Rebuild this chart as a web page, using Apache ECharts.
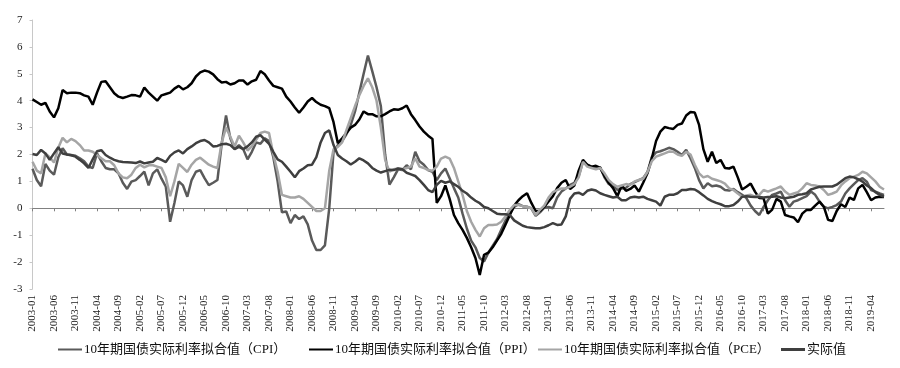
<!DOCTYPE html>
<html>
<head>
<meta charset="utf-8">
<script src="https://cdn.jsdelivr.net/npm/echarts@6/dist/echarts.min.js"></script>
<style>
html,body{margin:0;padding:0;background:#fff;}
#chart{width:900px;height:368px;}
</style>
</head>
<body>
<div id="chart"></div>
<script>
// Monthly categories 2003-01 .. 2019-07
const startYear = 2003, endYear = 2019, endMonth = 7;
const categories = [];
for (let y = startYear; y <= endYear; y++) {
  for (let m = 1; m <= 12; m++) {
    if (y === endYear && m > endMonth) break;
    categories.push(y + '-' + (m < 10 ? '0' + m : '' + m));
  }
}

const seriesNames = [
  '10年期国债实际利率拟合值（CPI）',
  '10年期国债实际利率拟合值（PPI）',
  '10年期国债实际利率拟合值（PCE）',
  '实际值'
];

const cpiFit = [
  1.47, 1.05, 0.82, 1.65, 1.4, 1.25, 1.9, 2.23, 2.0, 1.98, 1.95, 1.86,
  1.75, 1.55, 1.5, 2.04, 1.75, 1.5, 1.45, 1.45, 1.3, 0.95, 0.72, 0.99,
  1.05, 1.2, 1.36, 0.85, 1.3, 1.45, 1.1, 0.8, -0.5, 0.2, 1.0, 0.85,
  0.43, 1.05, 1.36, 1.42, 1.12, 0.86, 0.95, 1.05, 2.4, 3.45, 2.6, 2.2,
  2.35, 2.2, 1.82, 2.1, 2.45, 2.4, 2.6, 2.5, 1.9, 1.0, -0.15, -0.12,
  -0.55, -0.25, -0.4, -0.3, -0.6, -1.2, -1.55, -1.55, -1.38, 0.0, 2.1, 2.35,
  2.5, 2.75, 3.1, 3.6, 4.3, 5.0, 5.68, 5.1, 4.5, 3.8, 2.0, 0.88,
  1.15, 1.45, 1.42, 1.6, 1.45, 2.1, 1.75, 1.62, 1.42, 1.36, 1.05, 1.3,
  1.48, 1.12, 0.75, 0.4, -0.2, -0.75, -1.2, -1.45, -1.85, -1.98, -1.65, -1.4,
  -1.15, -0.8, -0.45, -0.2, 0.05, 0.15, 0.08, 0.06, 0.0, -0.28, -0.15, 0.02,
  0.05, 0.0, 0.4, 0.62, 0.74, 0.87, 0.95, 1.2, 1.73, 1.62, 1.52, 1.5,
  1.53, 1.15, 0.9, 0.85, 0.68, 0.74, 0.76, 0.9, 0.97, 1.05, 1.12, 1.35,
  1.9, 2.08, 2.12, 2.18, 2.25, 2.2, 2.1, 1.98, 2.17, 1.86, 1.5, 1.05,
  0.74, 0.93, 0.82, 0.85, 0.8, 0.68, 0.66, 0.72, 0.6, 0.5, 0.38, 0.1,
  -0.1, -0.25, 0.05, 0.3, 0.5, 0.55, 0.62, 0.3, 0.06, 0.25, 0.3, 0.38,
  0.45, 0.62, 0.5, 0.25, 0.06, 0.0, 0.05, 0.12, 0.25, 0.55, 0.74, 0.9,
  1.05, 1.12, 0.99, 0.68, 0.62, 0.55, 0.5
];

const ppiFit = [
  4.05, 3.95, 3.85, 3.92, 3.6, 3.38, 3.72, 4.4, 4.28, 4.3, 4.3, 4.28,
  4.2, 4.15, 3.85, 4.3, 4.7, 4.72, 4.5, 4.28, 4.15, 4.1, 4.15, 4.21,
  4.2, 4.15, 4.49, 4.3, 4.15, 4.0, 4.2, 4.25, 4.3, 4.45, 4.55, 4.42,
  4.5, 4.65, 4.9, 5.05, 5.12, 5.08, 4.98, 4.8, 4.68, 4.7, 4.6, 4.65,
  4.75, 4.75, 4.6, 4.72, 4.78, 5.1, 4.98, 4.75, 4.55, 4.5, 4.45, 4.15,
  3.97, 3.75, 3.55, 3.75, 3.97, 4.1, 3.95, 3.85, 3.8, 3.72, 3.2, 2.42,
  2.6, 2.8, 3.0, 3.1, 3.3, 3.6, 3.5, 3.5, 3.42, 3.42, 3.5, 3.6,
  3.68, 3.66, 3.72, 3.82, 3.5, 3.28, 3.04, 2.85, 2.7, 2.58, 0.2, 0.45,
  0.85, 0.35, -0.25, -0.55, -0.8, -1.1, -1.45, -1.85, -2.48, -1.73, -1.65, -1.45,
  -1.2, -0.95, -0.6, -0.25, 0.1, 0.3, 0.45, 0.56, 0.2, -0.1, -0.1, 0.05,
  0.25, 0.45, 0.75, 0.95, 1.05, 0.72, 0.85, 1.4, 1.8, 1.62, 1.55, 1.58,
  1.5, 1.2, 0.95, 0.75, 0.45, 0.85, 0.65, 0.72, 0.85, 0.62, 0.95, 1.3,
  1.85, 2.5, 2.85, 3.02, 2.98, 2.95, 3.1, 3.15, 3.45, 3.58, 3.56, 3.1,
  2.2, 1.73, 2.1, 1.68, 1.8, 1.5, 1.48, 1.55, 1.15, 0.7, 0.8, 0.92,
  0.62, 0.38, 0.37, -0.2, -0.05, 0.35, 0.25, -0.25, -0.3, -0.34, -0.52, -0.2,
  -0.06, -0.06, 0.1, 0.25, 0.06, -0.43, -0.47, -0.1, 0.15, 0.05, 0.4, 0.31,
  0.74, 0.87, 0.6, 0.3, 0.4, 0.43, 0.42
];

const pceFit = [
  1.73, 1.4, 1.3, 2.04, 1.9, 1.7, 2.25, 2.62, 2.45, 2.58, 2.5, 2.35,
  2.15, 2.15, 2.1, 1.98, 1.86, 1.75, 1.75, 1.6, 1.3, 1.15, 1.12, 1.25,
  1.5, 1.62, 1.52, 1.6, 1.6, 1.55, 1.5, 1.15, 0.45, 1.0, 1.65, 1.5,
  1.35, 1.62, 1.8, 1.88, 1.75, 1.62, 1.55, 1.5, 2.45, 3.0, 2.66, 2.3,
  2.7, 2.45, 2.15, 2.3, 2.55, 2.8, 2.85, 2.8, 2.0, 1.36, 0.5, 0.45,
  0.4, 0.4, 0.45, 0.35, 0.2, 0.05, -0.1, -0.1, 0.0, 1.4, 2.2, 2.28,
  2.45, 2.9, 3.35, 3.8, 4.2, 4.55, 4.83, 4.5, 4.0, 3.0, 1.8, 1.36,
  1.45, 1.48, 1.45, 1.5, 1.55, 1.86, 1.55, 1.5, 1.42, 1.4, 1.55, 1.85,
  1.92, 1.85, 1.5, 1.0, 0.5, -0.1, -0.5, -0.8, -1.05, -0.74, -0.62, -0.62,
  -0.6, -0.5, -0.3, -0.06, 0.12, 0.12, 0.08, 0.05, 0.0, -0.25, -0.06, 0.1,
  0.4, 0.6, 0.68, 0.74, 0.74, 0.8, 0.9, 1.15, 1.73, 1.55, 1.5, 1.45,
  1.5, 1.3, 1.05, 0.9, 0.8, 0.85, 0.9, 0.87, 1.0, 1.05, 1.1, 1.35,
  1.75, 1.92, 1.98, 2.04, 2.11, 2.1, 2.0, 1.95, 2.1, 2.0, 1.62, 1.3,
  1.15, 1.2, 1.1, 1.05, 1.0, 0.92, 0.74, 0.68, 0.55, 0.43, 0.48, 0.5,
  0.43, 0.5, 0.68, 0.62, 0.68, 0.74, 0.81, 0.62, 0.5, 0.55, 0.6, 0.74,
  0.93, 0.87, 0.85, 0.81, 0.68, 0.5, 0.55, 0.62, 0.85, 1.0, 1.12, 1.18,
  1.24, 1.36, 1.3, 1.15, 1.0, 0.8, 0.7
];

const actual = [
  2.02, 1.98, 2.17, 2.04, 1.8, 2.04, 2.27, 2.04, 2.0, 1.97, 1.92, 1.8,
  1.67, 1.5, 1.82, 2.12, 2.16, 1.98, 1.88, 1.8, 1.75, 1.72, 1.71, 1.7,
  1.68, 1.74, 1.67, 1.7, 1.73, 1.87, 1.8, 1.72, 1.95, 2.08, 2.15, 2.04,
  2.2, 2.3, 2.42, 2.5, 2.54, 2.45, 2.3, 2.32, 2.38, 2.4, 2.35, 2.2,
  2.28, 2.2, 2.3, 2.45, 2.66, 2.72, 2.55, 2.4, 2.1, 1.82, 1.73, 1.55,
  1.36, 1.15, 1.38, 1.48, 1.6, 1.62, 1.9, 2.45, 2.8, 2.9, 2.35, 1.98,
  1.85, 1.75, 1.63, 1.73, 1.86, 1.78, 1.67, 1.5, 1.4, 1.33, 1.38, 1.43,
  1.42, 1.48, 1.45, 1.32, 1.26, 1.2, 1.05, 0.87, 0.68, 0.6, 0.87, 1.02,
  0.95, 1.0, 0.9, 0.8, 0.65, 0.55, 0.4, 0.28, 0.19, 0.05, 0.0, -0.1,
  -0.2, -0.22, -0.22, -0.25, -0.45, -0.55, -0.65, -0.7, -0.72, -0.74, -0.74, -0.7,
  -0.63, -0.55, -0.62, -0.6, -0.3, 0.35, 0.55, 0.58, 0.5, 0.65, 0.7, 0.66,
  0.56, 0.5, 0.45, 0.4, 0.43, 0.3, 0.3, 0.4, 0.43, 0.4, 0.43, 0.35,
  0.3, 0.25, 0.1, 0.43, 0.5, 0.5, 0.56, 0.68, 0.68, 0.72, 0.7, 0.6,
  0.48, 0.35, 0.27, 0.2, 0.15, 0.08, 0.08, 0.12, 0.25, 0.43, 0.45, 0.43,
  0.42, 0.42, 0.4, 0.42, 0.43, 0.45, 0.4, 0.37, 0.4, 0.43, 0.5, 0.52,
  0.56, 0.7, 0.75, 0.8, 0.81, 0.81, 0.81, 0.88, 1.0, 1.12, 1.18, 1.15,
  1.08, 0.99, 0.85, 0.75, 0.6, 0.5, 0.43
];

const yMin = -3, yMax = 7, yStep = 1;
const colors = ['#5a5a5a', '#000000', '#a5a5a5', '#3f3f3f'];
const seriesData = [cpiFit, ppiFit, pceFit, actual];
const legendLeft = [58, 309, 538, 781];

const serifFont = '"Liberation Serif", "Times New Roman", serif';
const legendFont = '"Liberation Serif", "Noto Sans CJK SC", serif';

const chart = echarts.init(document.getElementById('chart'), null, {renderer: 'canvas'});
chart.setOption({
  animation: false,
  backgroundColor: '#ffffff',
  grid: {left: 32.5, right: 16, top: 20, bottom: 79, containLabel: false},
  legend: seriesNames.map((n, k) => ({
    data: [n],
    left: legendLeft[k],
    top: 343,
    padding: 0,
    icon: 'rect',
    itemWidth: 24,
    itemHeight: k === 3 ? 3 : 2,
    itemGap: 0,
    textStyle: {fontFamily: legendFont, fontSize: 13, color: '#111', padding: [0, 0, 0, -3]}
  })),
  xAxis: [
    {
      type: 'category',
      data: categories,
      boundaryGap: false,
      axisLine: {onZero: true, lineStyle: {color: '#808080', width: 1}},
      axisTick: {show: true, interval: 4, length: 3, inside: false, lineStyle: {color: '#808080'}},
      axisLabel: {show: false},
      splitLine: {show: false}
    },
    {
      type: 'category',
      data: categories,
      position: 'bottom',
      boundaryGap: false,
      axisLine: {show: false, onZero: false},
      axisTick: {show: false},
      axisLabel: {show: true, interval: 4, rotate: 90, margin: 6, fontFamily: serifFont, fontSize: 11, color: '#222'},
      splitLine: {show: false}
    }
  ],
  yAxis: {
    type: 'value',
    min: yMin,
    max: yMax,
    interval: yStep,
    axisLine: {show: true, lineStyle: {color: '#c8c8c8'}},
    axisTick: {show: true, length: 3, lineStyle: {color: '#c8c8c8'}},
    axisLabel: {fontFamily: serifFont, fontSize: 11, color: '#222', margin: 10},
    splitLine: {show: false}
  },
  series: seriesNames.map((n, k) => ({
    name: n,
    type: 'line',
    xAxisIndex: 0,
    data: seriesData[k],
    showSymbol: false,
    symbol: 'none',
    smooth: false,
    lineStyle: {color: colors[k], width: 2.5},
    itemStyle: {color: colors[k]}
  }))
});
</script>
</body>
</html>
